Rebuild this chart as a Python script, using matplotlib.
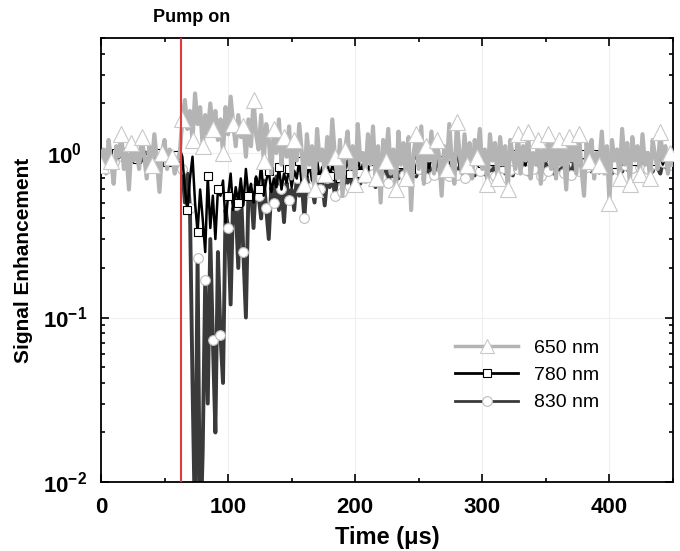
import numpy as np
import matplotlib
matplotlib.use("Agg")
import matplotlib.pyplot as plt
from matplotlib.ticker import FixedLocator, MultipleLocator, NullFormatter

plt.rcParams['font.family'] = ['Liberation Sans', 'DejaVu Sans']
plt.rcParams['mathtext.fontset'] = 'custom'
plt.rcParams['mathtext.bf'] = 'Liberation Sans:bold'
plt.rcParams['mathtext.rm'] = 'Liberation Sans'

# sampling grid: one reading every 2 us from 0 to 450 us
time_us = np.arange(0, 451, 2)

sig_650 = [
    0.85, 1.05, 0.75, 1.2, 0.9, 0.65, 1.1, 0.95, 1.3, 0.8, 1.0, 0.6, 1.15, 0.9, 1.05,
    0.8, 1.25, 0.95, 0.7, 1.1, 0.85, 1.3, 0.9, 0.58, 1.0, 1.2, 0.8, 1.05, 0.95, 0.75,
    0.9, 1.0, 1.6, 2.1, 1.4, 1.8, 1.2, 2.3, 1.5, 1.9, 1.1, 1.7, 1.3, 2.0, 1.4,
    1.8, 1.2, 1.6, 1.0, 1.9, 1.3, 2.2, 1.5, 1.1, 1.7, 1.25, 1.45, 0.95, 1.6, 1.1,
    2.1, 1.3, 1.05, 1.7, 0.9, 1.5, 1.2, 0.75, 1.4, 1.0, 1.6, 0.85, 1.25, 0.95, 1.45,
    0.7, 1.2, 0.9, 1.5, 1.0, 0.65, 1.3, 0.85, 1.1, 0.6, 1.4, 0.9, 1.05, 0.75, 1.25,
    0.85, 1.6, 0.95, 0.7, 1.2, 0.55, 1.05, 1.35, 0.8, 1.1, 0.65, 1.5, 0.9, 1.0, 0.75,
    1.3, 0.85, 1.45, 0.7, 1.1, 0.5, 1.2, 0.9, 1.4, 0.75, 1.05, 0.6, 1.35, 0.85, 1.15,
    0.7, 1.25, 0.45, 1.0, 1.3, 0.8, 1.45, 0.65, 1.1, 0.9, 1.35, 0.75, 1.2, 0.95, 0.55,
    1.1, 0.8, 1.5, 0.9, 0.65, 1.55, 1.0, 0.75, 1.3, 0.85, 1.15, 0.7, 1.2, 0.95, 1.4,
    0.8, 1.05, 0.65, 1.3, 0.9, 1.15, 0.7, 1.25, 0.85, 1.1, 0.6, 1.2, 0.95, 0.8, 1.3,
    0.75, 1.1, 0.9, 1.35, 0.7, 1.0, 0.85, 1.2, 0.65, 1.05, 0.9, 1.3, 0.8, 1.15, 0.7,
    1.2, 0.85, 1.05, 0.6, 1.25, 0.9, 1.1, 0.75, 1.3, 0.8, 0.55, 1.15, 0.9, 1.2, 0.7,
    1.0, 0.85, 1.35, 0.75, 1.1, 0.5, 1.2, 0.9, 1.05, 0.7, 1.4, 0.85, 1.15, 0.65, 1.25,
    0.9, 1.1, 0.75, 1.3, 0.85, 1.0, 0.7, 1.2, 0.95, 0.8, 1.35, 0.9, 1.1, 0.75, 1.0,
    0.85,
]

sig_780 = [
    0.92, 0.98, 0.88, 1.02, 0.95, 0.9, 1.0, 0.93, 0.97, 0.87, 1.01, 0.94, 0.9, 0.99, 0.92,
    0.96, 0.89, 1.03, 0.93, 0.98, 0.9, 0.95, 1.0, 0.91, 0.97, 0.94, 0.88, 1.02, 0.96, 0.93,
    0.97, 1.05, 0.95, 0.6, 0.45, 0.7, 0.95, 0.5, 0.33, 0.6, 0.4, 0.25, 0.72, 0.35, 0.55,
    0.3, 0.6, 0.55, 0.68, 0.38, 0.55, 0.75, 0.45, 0.62, 0.5, 0.7, 0.48, 0.8, 0.55, 0.65,
    0.5, 0.72, 0.6, 0.85, 0.55, 0.68, 0.78, 0.58, 0.7, 0.62, 0.82, 0.6, 0.75, 0.66, 0.8,
    0.62, 0.78, 0.7, 0.9, 0.64, 0.8, 0.72, 0.85, 0.68, 0.76, 0.92, 0.7, 0.82, 0.74, 0.88,
    0.72, 0.84, 0.78, 0.95, 0.7, 0.86, 0.8, 0.9, 0.75, 0.88, 0.82, 0.96, 0.76, 0.85, 0.92,
    0.8, 0.9, 0.86, 1.0, 0.78, 0.92, 0.84, 0.96, 0.8, 0.88, 0.94, 0.82, 1.02, 0.86, 0.9,
    0.84, 0.95, 0.8, 0.9, 0.98, 0.83, 0.92, 0.87, 1.0, 0.81, 0.93, 0.88, 0.96, 0.85, 0.91,
    0.86, 0.97, 0.82, 0.94, 0.89, 1.01, 0.84, 0.92, 0.88, 0.98, 0.83, 0.95, 0.9, 0.86, 0.99,
    0.87, 0.93, 0.82, 0.96, 0.9, 1.0, 0.85, 0.94, 0.88, 0.97, 0.84, 0.92, 0.99, 0.86, 0.93,
    0.89, 0.95, 0.84, 1.0, 0.87, 0.93, 0.9, 0.98, 0.83, 0.94, 0.88, 1.01, 0.86, 0.92, 0.96,
    0.85, 0.97, 0.9, 0.83, 0.95, 0.88, 1.02, 0.86, 0.93, 0.9, 0.98, 0.84, 0.94, 0.89, 0.99,
    0.87, 0.92, 0.96, 0.84, 1.0, 0.89, 0.93, 0.86, 0.97, 0.9, 0.85, 0.99, 0.91, 0.88, 0.95,
    0.9, 0.84, 0.98, 0.87, 0.93, 1.01, 0.86, 0.95, 0.89, 0.92, 0.97, 0.85, 0.94, 0.9, 0.96,
    0.92,
]

sig_830 = [
    0.95, 0.9, 1.0, 0.93, 0.97, 0.88, 1.02, 0.92, 0.96, 0.9, 0.99, 0.94, 0.89, 1.01, 0.93,
    0.97, 0.91, 0.95, 1.0, 0.9, 0.94, 0.98, 0.88, 0.96, 0.92, 1.0, 0.93, 0.9, 0.97, 0.95,
    0.98, 0.95, 0.8, 0.5, 0.75, 0.46, 0.04, 0.005, 0.23, 0.004, 0.015, 0.17, 0.03, 0.3, 0.073,
    0.02, 0.25, 0.078, 0.04, 0.45, 0.35, 0.12, 0.55, 0.48, 0.2, 0.62, 0.25, 0.1, 0.58, 0.6,
    0.35, 0.7, 0.55, 0.4, 0.68, 0.46, 0.3, 0.62, 0.5, 0.72, 0.45, 0.6, 0.38, 0.66, 0.52,
    0.6, 0.45, 0.7, 0.55, 0.65, 0.4, 0.72, 0.58, 0.62, 0.5, 0.75, 0.6, 0.68, 0.48, 0.7,
    0.62, 0.75, 0.55, 0.7, 0.8, 0.58, 0.72, 0.66, 0.78, 0.6, 0.74, 0.82, 0.65, 0.76, 0.7,
    0.8, 0.68, 0.75, 0.62, 0.82, 0.7, 0.78, 0.85, 0.66, 0.76, 0.72, 0.84, 0.7, 0.79, 0.74,
    0.82, 0.7, 0.78, 0.86, 0.72, 0.8, 0.76, 0.88, 0.7, 0.83, 0.78, 0.74, 0.85, 0.72, 0.8,
    0.76, 0.84, 0.72, 0.8, 0.87, 0.74, 0.82, 0.78, 0.7, 0.85, 0.76, 0.81, 0.73, 0.86, 0.78,
    0.8, 0.74, 0.86, 0.78, 0.83, 0.72, 0.88, 0.77, 0.81, 0.75, 0.84, 0.79, 0.73, 0.87, 0.8,
    0.76, 0.85, 0.79, 0.74, 0.88, 0.8, 0.77, 0.84, 0.72, 0.82, 0.86, 0.78, 0.81, 0.75, 0.87,
    0.79, 0.83, 0.76, 0.89, 0.81, 0.74, 0.86, 0.8, 0.78, 0.85, 0.73, 0.82, 0.88, 0.77, 0.84,
    0.8, 0.76, 0.87, 0.82, 0.78, 0.9, 0.75, 0.83, 0.8, 0.86, 0.77, 0.84, 0.79, 0.88, 0.81,
    0.78, 0.85, 0.82, 0.76, 0.89, 0.8, 0.84, 0.77, 0.86, 0.81, 0.75, 0.88, 0.83, 0.79, 0.85,
    0.82,
]

pump_on_us = 63
x_ticks = [0, 100, 200, 300, 400]
y_ticks = [1e-2, 1e-1, 1e0]
y_tick_labels = [r'$\mathbf{10^{-2}}$', r'$\mathbf{10^{-1}}$', r'$\mathbf{10^{0}}$']

fig = plt.figure(figsize=(6.8, 5.51), dpi=100)
ax = fig.add_axes([0.1485, 0.1252, 0.8412, 0.8058])

# faint background grid
for xv in x_ticks[1:]:
    ax.axvline(xv, color='#efefef', lw=0.8, zorder=0)
for yv in y_ticks[1:]:
    ax.axhline(yv, color='#efefef', lw=0.8, zorder=0)

l830, = ax.plot(time_us, sig_830, color='#3a3a3a', lw=2.8, marker='o', markersize=7,
                markerfacecolor='white', markeredgecolor='#bdbdbd', markeredgewidth=0.8,
                markevery=(2, 3), label='830 nm', zorder=2)
l780, = ax.plot(time_us, sig_780, color='black', lw=1.8, marker='s', markersize=6,
                markerfacecolor='white', markeredgecolor='black', markeredgewidth=0.8,
                markevery=(2, 4), label='780 nm', zorder=3)
l650, = ax.plot(time_us, sig_650, color='#b4b4b4', lw=3.0, marker='^', markersize=11,
                markerfacecolor='white', markeredgecolor='#c8c8c8', markeredgewidth=0.8,
                markevery=4, label='650 nm', zorder=4)

ax.axvline(pump_on_us, color='#e03a3e', lw=1.5, zorder=5)

ax.set_yscale('log')
ax.set_xlim(0, 450)
ax.set_ylim(1e-2, 5)

ax.xaxis.set_major_locator(FixedLocator(x_ticks))
ax.xaxis.set_minor_locator(MultipleLocator(50))
ax.set_xticklabels([str(v) for v in x_ticks])
ax.yaxis.set_major_locator(FixedLocator(y_ticks))
ax.yaxis.set_minor_locator(FixedLocator(
    [m * 10.0 ** e for e in (-2, -1, 0) for m in range(2, 10) if m * 10.0 ** e <= 5]))
ax.yaxis.set_minor_formatter(NullFormatter())
ax.set_yticklabels(y_tick_labels)

ax.tick_params(which='both', direction='in', top=True, right=True, width=1.2)
ax.tick_params(which='major', length=6, labelsize=16)
ax.tick_params(which='minor', length=3)
ax.tick_params(axis='x', which='major', pad=11)
ax.tick_params(axis='y', which='major', pad=26)
for lab in ax.get_xticklabels():
    lab.set_fontweight('bold')
for lab in ax.get_yticklabels():
    lab.set_horizontalalignment('center')
for sp in ax.spines.values():
    sp.set_linewidth(1.3)

ax.set_xlabel('Time (μs)', fontsize=17, fontweight='bold')
ax.xaxis.set_label_coords(0.5, -0.098)
ax.set_ylabel('Signal Enhancement', fontsize=15, fontweight='bold')
ax.yaxis.set_label_coords(-0.118, 0.5)

ax.text(71, 1.047, 'Pump on', transform=ax.get_xaxis_transform(), ha='center',
        va='center', fontsize=13, fontweight='bold')

leg = ax.legend([l650, l780, l830], ['650 nm', '780 nm', '830 nm'],
                loc='upper left', bbox_to_anchor=(0.619, 0.322), frameon=False,
                fontsize=14, handlelength=3.25, labelspacing=0.5, handletextpad=0.8,
                borderpad=0, borderaxespad=0)
for h, ms, lw in zip(leg.legend_handles, [10, 6, 7], [2.5, 2.0, 2.0]):
    h.set_markersize(ms)
    h.set_linewidth(lw)

fig.savefig('out.png', dpi=100)
